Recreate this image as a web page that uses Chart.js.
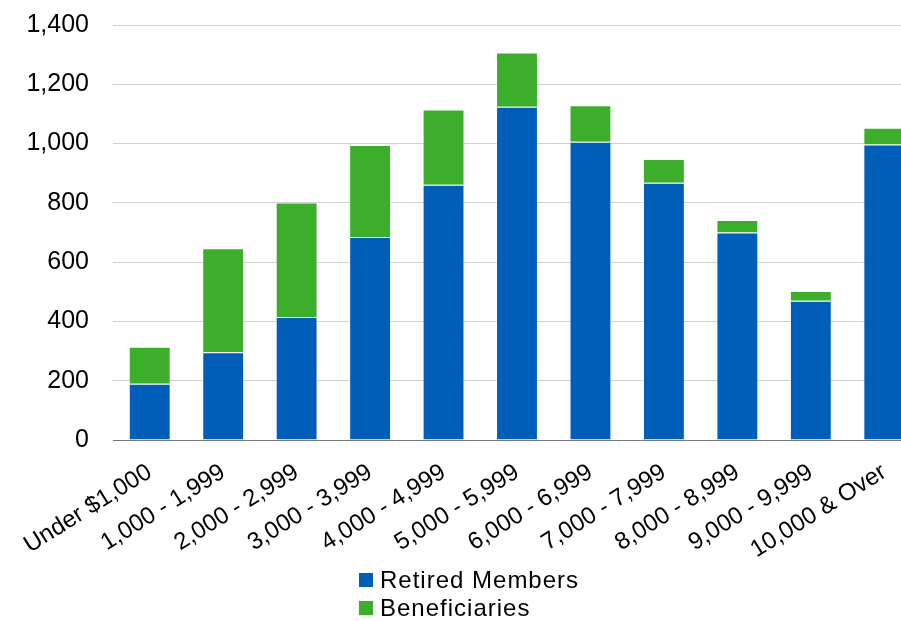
<!DOCTYPE html>
<html>
<head>
<meta charset="utf-8">
<script src="https://cdn.jsdelivr.net/npm/chart.js@4.4.1/dist/chart.umd.min.js"></script>
<style>
  html, body { margin: 0; padding: 0; background: #fff; overflow: hidden; }
  #wrap { position: relative; width: 940px; height: 621px; }
  #legend { position: absolute; left: 359px; top: 566px; font-family: Arial, "Liberation Sans", sans-serif; font-size: 24px; letter-spacing: 1px; color: #000; }
  #legend div { display: flex; align-items: center; height: 28px; }
  #legend span.box { display: inline-block; width: 14px; height: 14px; margin-right: 7px; }
</style>
</head>
<body>
<div id="wrap">
  <canvas id="chart" width="940" height="621"></canvas>
  <div id="legend"></div>
</div>
<script>
const categories = ['Under $1,000', '1,000 - 1,999', '2,000 - 2,999', '3,000 - 3,999', '4,000 - 4,999',
    '5,000 - 5,999', '6,000 - 6,999', '7,000 - 7,999', '8,000 - 8,999', '9,000 - 9,999', '10,000 & Over'];
const retiredMembers = [190, 296, 415, 685, 861, 1124, 1006, 868, 700, 470, 997];
const beneficiaries = [125, 351, 386, 310, 254, 183, 123, 80, 42, 33, 56];

const ctx = document.getElementById('chart').getContext('2d');
const font = "Arial, 'Liberation Sans', sans-serif";

const chart = new Chart(ctx, {
    type: 'bar',
    data: {
        labels: categories,
        datasets: [
            {
                label: 'Retired Members',
                data: retiredMembers,
                backgroundColor: '#005EB8',
                borderColor: 'rgba(255, 255, 255, 0.35)',
                borderWidth: 1,
            },
            {
                label: 'Beneficiaries',
                data: beneficiaries,
                backgroundColor: '#3DAE2B',
                borderColor: 'rgba(255, 255, 255, 0.35)',
                borderWidth: 1,
            },
        ],
    },
    options: {
        responsive: false,
        animation: false,
        layout: { padding: { top: 25, right: 19, bottom: 1, left: 0 } },
        datasets: { bar: { categoryPercentage: 1.0, barPercentage: 0.57 } },
        plugins: {
            legend: { display: false },
            tooltip: { enabled: false },
        },
        scales: {
            x: {
                stacked: true,
                grid: { display: false, drawTicks: false },
                border: { display: true, color: '#777777', width: 1 },
                ticks: {
                    color: '#000',
                    font: { family: font, size: 24 },
                    minRotation: 32,
                    maxRotation: 32,
                    padding: 18,
                    autoSkip: false,
                },
                afterFit: (scale) => { scale.height = 180; },
            },
            y: {
                stacked: true,
                min: 0,
                max: 1400,
                // invisible tick marks give the gap between labels and grid
                grid: { color: '#d0d0d0', lineWidth: 1, drawTicks: true, tickLength: 22, tickColor: 'rgba(0,0,0,0)' },
                border: { display: false },
                ticks: {
                    stepSize: 200,
                    color: '#000',
                    font: { family: font, size: 25 },
                    padding: 2,
                },
                afterFit: (scale) => { scale.width = 113; },
            },
        },
    },
});

// legend stacked vertically under the chart, built from the datasets
const legendEl = document.getElementById('legend');
chart.data.datasets.forEach((ds) => {
    const row = document.createElement('div');
    const box = document.createElement('span');
    box.className = 'box';
    box.style.background = ds.backgroundColor;
    row.appendChild(box);
    row.appendChild(document.createTextNode(ds.label));
    legendEl.appendChild(row);
});
</script>
</body>
</html>
